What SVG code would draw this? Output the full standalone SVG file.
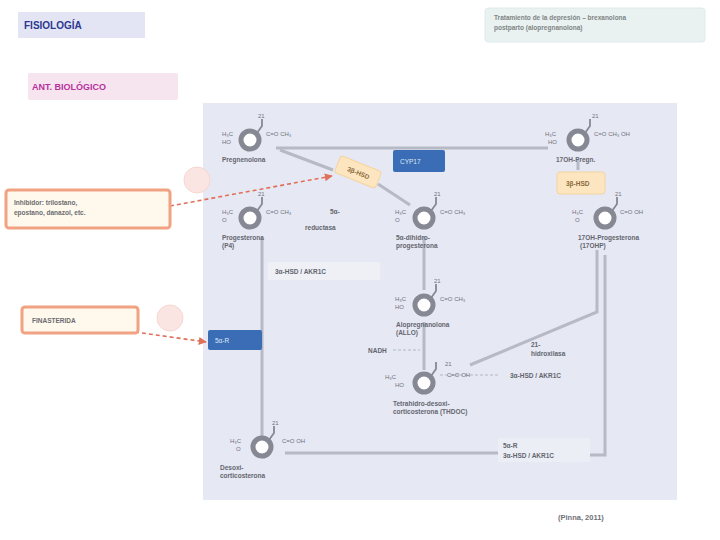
<svg xmlns="http://www.w3.org/2000/svg" width="720" height="540" viewBox="0 0 720 540">
<defs>
<style>
text{font-family:"Liberation Sans",Arial,sans-serif;}
.sm{font-size:6px;fill:#70727c;}
.nm{font-size:6.5px;fill:#64666f;font-weight:bold;}
.lb{font-size:6.5px;fill:#64666f;font-weight:bold;}
.ring{fill:#fff;stroke:#868893;stroke-width:5;}
.bond{stroke:#868893;stroke-width:1.8;fill:none;}
.conn{stroke:#b6bac6;stroke-width:3;fill:none;}
.red{stroke:#e0705a;stroke-width:1.6;stroke-dasharray:4 3;fill:none;}
.blue{fill:#3a6db5;}
.orange{fill:#fde6bf;stroke:#f5d3a0;stroke-width:1;}
.call{fill:#fff8ec;stroke:#f0a282;stroke-width:3;}
.dot{fill:#fae5e3;stroke:#f6d6d2;stroke-width:1;}
</style>
<marker id="ah" viewBox="0 0 10 10" refX="9" refY="5" markerWidth="5" markerHeight="5" orient="auto"><path d="M0,0L10,5L0,10z" fill="#e0705a"/></marker>
</defs>
<rect width="720" height="540" fill="#fff"/>
<g id="title"><rect x="18" y="12" width="127" height="26" fill="#e3e5f4"/><text x="24" y="29" font-size="10" font-weight="bold" fill="#2c3790">FISIOLOGÍA</text></g>
<g id="note"><rect x="485" y="8" width="220" height="34" rx="3" fill="#e9f1f1" stroke="#dfeaea"/><text x="494" y="20" font-size="6.5" font-weight="bold" fill="#7f8585">Tratamiento de la depresión  –  brexanolona</text><text x="494" y="30" font-size="6.5" font-weight="bold" fill="#7f8585">postparto (alopregnanolona)</text></g>
<g id="pink"><rect x="28" y="73" width="150" height="27" rx="2" fill="#f6e5ef"/><text x="32" y="90" font-size="9" font-weight="bold" fill="#b8309e">ANT. BIOLÓGICO</text></g>
<rect id="panel" x="203" y="103" width="474" height="397" fill="#e6e8f3"/>
<g id="connectors">
<path class="conn" d="M276,148H548"/>
<path class="conn" d="M280,150L333,170M378,184L410,205"/>
<path class="conn" d="M262,238V440"/>
<path class="conn" d="M285,453H500"/>
<path class="conn" d="M590,455H605V255"/>
<path class="conn" d="M597,250V312L470,365"/>
<path class="conn" d="M424,236V290M424,322V370"/>
<path d="M440,375H500" stroke="#c4c8d4" stroke-width="1.5" stroke-dasharray="3 2"/>
<path d="M393,350H420" stroke="#c4c8d4" stroke-width="1.5" stroke-dasharray="3 2"/>
<path d="M578,160V170" class="conn"/>
<path class="red" d="M170,206L332,176" marker-end="url(#ah)"/>
<path class="red" d="M135,332L206,342" marker-end="url(#ah)"/>
</g>
<g id="enz-blue1"><rect class="blue" x="393" y="150" width="52" height="22" rx="2"/><text x="400" y="164" font-size="6.5" fill="#dfe8f6">CYP17</text></g>
<g id="enz-blue2"><rect class="blue" x="208" y="330" width="54" height="20" rx="2"/><text x="215" y="343" font-size="6.5" fill="#dfe8f6">5α-R</text></g>
<g id="enz-or1"><rect class="orange" x="336" y="163" width="44" height="18" rx="3" transform="rotate(22 358 172)"/><text x="347" y="175" font-size="6.5" font-weight="bold" fill="#8a6a40" transform="rotate(22 358 172)">3β-HSD</text></g>
<g id="enz-or2"><rect class="orange" x="557" y="172" width="48" height="22" rx="3"/><text x="566" y="186" font-size="6.5" font-weight="bold" fill="#8a6a40">3β-HSD</text></g>
<g id="n-tl"><circle class="ring" cx="250" cy="140" r="9"/><path class="bond" d="M257,133L262,126V119"/><text class="sm" x="258" y="118">21</text><text class="sm" x="266" y="136">C=O  CH₃</text><text class="sm" x="222" y="136">H₃C</text><text class="sm" x="222" y="144">HO</text><text class="nm" x="222" y="162">Pregnenolona</text></g>
<g id="n-tr"><circle class="ring" cx="578" cy="140" r="9"/><path class="bond" d="M585,133L590,126V119"/><text class="sm" x="592" y="118">21</text><text class="sm" x="594" y="136">C=O  CH₃  OH</text><text class="sm" x="545" y="136">H₃C</text><text class="sm" x="548" y="144">HO</text><text class="nm" x="556" y="162">17OH-Pregn.</text></g>
<g id="n-l2"><circle class="ring" cx="250" cy="218" r="9"/><path class="bond" d="M257,211L262,204V197"/><text class="sm" x="258" y="196">21</text><text class="sm" x="266" y="214">C=O  CH₃</text><text class="sm" x="222" y="214">H₃C</text><text class="sm" x="222" y="222">O</text><text class="nm" x="222" y="240">Progesterona</text><text class="nm" x="222" y="248">(P4)</text></g>
<g id="lbl-5ar"><text class="lb" x="330" y="214">5α-</text><text class="lb" x="305" y="230">reductasa</text></g>
<g id="lbl-box"><rect x="268" y="262" width="112" height="18" fill="#eef0f6"/><text class="lb" x="275" y="274">3α-HSD / AKR1C</text></g>
<g id="n-m1"><circle class="ring" cx="424" cy="218" r="9"/><path class="bond" d="M431,211L436,204V197"/><text class="sm" x="434" y="196">21</text><text class="sm" x="440" y="214">C=O  CH₃</text><text class="sm" x="395" y="214">H₃C</text><text class="sm" x="395" y="222">O</text><text class="nm" x="396" y="240">5α-dihidro-</text><text class="nm" x="396" y="248">progesterona</text></g>
<g id="n-r2"><circle class="ring" cx="605" cy="218" r="9"/><path class="bond" d="M612,211L617,204V197"/><text class="sm" x="615" y="196">21</text><text class="sm" x="620" y="214">C=O  OH</text><text class="sm" x="572" y="214">H₃C</text><text class="sm" x="575" y="222">O</text><text class="nm" x="578" y="240">17OH-Progesterona</text><text class="nm" x="580" y="248">(17OHP)</text></g>
<g id="n-m2"><circle class="ring" cx="424" cy="305" r="9"/><path class="bond" d="M431,298L436,291V284"/><text class="sm" x="434" y="283">21</text><text class="sm" x="440" y="301">C=O  CH₃</text><text class="sm" x="395" y="301">H₃C</text><text class="sm" x="395" y="309">HO</text><text class="nm" x="396" y="327">Alopregnanolona</text><text class="nm" x="396" y="335">(ALLO)</text></g>
<g id="lbl-nad"><text class="lb" x="368" y="353">NADH</text></g>
<g id="n-m3"><circle class="ring" cx="424" cy="383" r="9"/><path class="bond" d="M431,376L436,369V362"/><text class="sm" x="445" y="366">21</text><text class="sm" x="447" y="377">C=O  OH</text><text class="sm" x="385" y="379">H₃C</text><text class="sm" x="395" y="387">HO</text><text class="nm" x="393" y="406">Tetrahidro-desoxi-</text><text class="nm" x="393" y="414">corticosterona (THDOC)</text></g>
<g id="lbl-21"><text class="lb" x="531" y="347">21-</text><text class="lb" x="531" y="356">hidroxilasa</text></g>
<g id="lbl-akr"><text class="lb" x="510" y="378">3α-HSD / AKR1C</text></g>
<g id="n-b"><circle class="ring" cx="262" cy="447" r="9"/><path class="bond" d="M269,440L274,433V426"/><text class="sm" x="272" y="425">21</text><text class="sm" x="282" y="443">C=O  OH</text><text class="sm" x="230" y="443">H₃C</text><text class="sm" x="236" y="451">O</text><text class="nm" x="220" y="470">Desoxi-</text><text class="nm" x="220" y="478">corticosterona</text></g>
<g id="lbl-bot"><rect x="498" y="438" width="92" height="24" fill="#eceef5"/><text class="lb" x="503" y="448">5α-R</text><text class="lb" x="503" y="458">3α-HSD / AKR1C</text></g>
<g id="callout1"><rect class="call" x="6" y="190" width="164" height="38" rx="3"/><text x="14" y="205" font-size="6.5" font-weight="bold" fill="#6a6c70">Inhibidor: trilostano,</text><text x="14" y="215" font-size="6.5" font-weight="bold" fill="#6a6c70">epostano, danazol, etc.</text></g>
<g id="callout2"><rect class="call" x="22" y="307" width="116" height="26" rx="3"/><text x="32" y="323" font-size="6.5" font-weight="bold" fill="#6a6c70">FINASTERIDA</text></g>
<circle class="dot" cx="197" cy="180" r="13"/>
<circle class="dot" cx="170" cy="318" r="13"/>
<text x="558" y="520" font-size="7.5" font-weight="bold" fill="#6f7177">(Pinna, 2011)</text>
</svg>
